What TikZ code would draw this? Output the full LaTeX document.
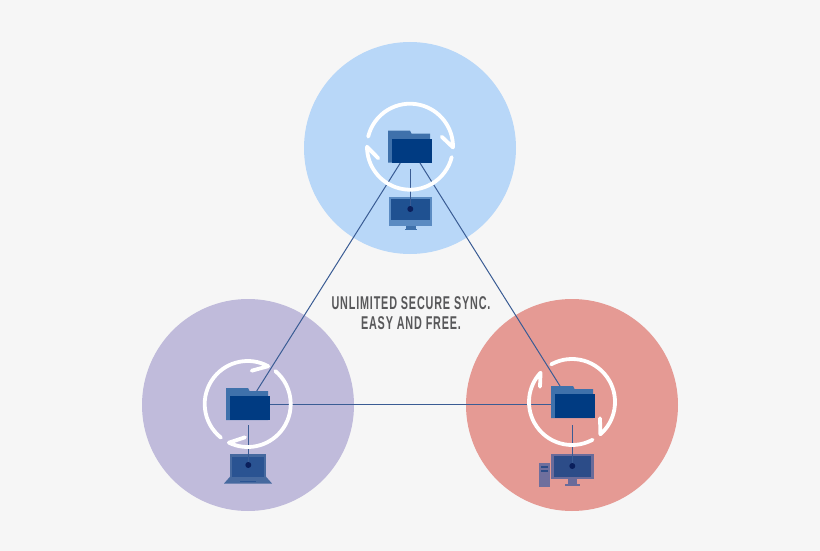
\documentclass[tikz,border=0pt]{standalone}
\usepackage{fontspec}
\newfontfamily\capfont[FakeStretch=0.585,LetterSpace=4.5]{Liberation Sans Bold}
\definecolor{bgc}{HTML}{F6F6F6}
\definecolor{bluec}{HTML}{B8D7F8}
\definecolor{purplec}{HTML}{C0BBDB}
\definecolor{redc}{HTML}{E59A94}
\definecolor{folderback}{HTML}{3F71AB}
\definecolor{folderfront}{HTML}{003B82}
\definecolor{wire}{HTML}{3A5C94}
\definecolor{dotc}{HTML}{0A1F5C}
\definecolor{txtc}{HTML}{58585A}
\definecolor{topouter}{HTML}{5B8BC2}
\definecolor{topinner}{HTML}{1F5191}
\definecolor{lapouter}{HTML}{46699F}
\definecolor{lapinner}{HTML}{2A5392}
\definecolor{deskouter}{HTML}{6A6B9A}
\definecolor{deskinner}{HTML}{2C4C88}
\definecolor{tower}{HTML}{6F6F9D}
\tikzset{
  x=1pt,y=-1pt,
  bubble/.style={circle,minimum size=212pt,inner sep=0pt,outer sep=0pt},
  front/.style={draw=none,fill=folderfront,inner sep=0pt,outer sep=0pt,minimum width=40pt,minimum height=24pt},
  ringline/.style={draw=white,line width=3.8pt,line cap=round,line join=round},
  wireline/.style={draw=wire,line width=1pt},
  syncdot/.style={fill=dotc,circle,inner sep=0pt,outer sep=0pt,minimum size=6pt},
  caption/.style={text=txtc,align=center,font=\capfont\fontsize{18.5}{20.5}\selectfont,inner sep=0pt}
}
\newcommand{\foldershape}[2]{%
  \fill[folderback] (#1,#2) -- (#1+22,#2) -- (#1+23.5,#2+3) -- (#1+42,#2+3) -- (#1+42,#2+32) -- (#1,#2+32) -- cycle;}
\newcommand{\ringarcs}[9]{%
  \draw[ringline] (#1,#2) ++(#3:43) arc[start angle=#3,end angle=#4,radius=43] -- (#5,#6);
  \draw[ringline] (#1,#2) ++(#7:43) arc[start angle=#7,end angle=#8,radius=43] -- #9;}
\begin{document}
\begin{tikzpicture}
\useasboundingbox (0,0) rectangle (820,551);
\fill[bgc] (0,0) rectangle (820,551);
\node[bubble,fill=bluec] (ctop) at (410,148) {};
\node[bubble,fill=purplec] (cleft) at (248,405) {};
\node[bubble,fill=redc] (cright) at (572,405) {};

% folders
\foldershape{388}{130.7}
\foldershape{226}{388}
\foldershape{551}{386}
\node[front] (ftop) at (412,151) {};
\node[front] (fleft) at (250,408) {};
\node[front] (fright) at (575,406) {};

% attachment points
\coordinate (ta) at (400.3,163);
\coordinate (tb) at (420,163);
\coordinate (la) at (256.7,391);
\coordinate (ra) at (560,386);
\coordinate (lc) at (270,404.5);
\coordinate (rb) at (551,404.5);
\coordinate (tv) at (410.3,169);
\coordinate (lv) at (248.3,425);
\coordinate (rv) at (572.3,425);

% top monitor
\fill[topouter] (389,196.7) rectangle (432,226);
\fill[topinner] (391,199) rectangle (430,220);
\fill[folderback] (405.7,226) rectangle (415.7,229);
\fill[folderback] (404.5,229) rectangle (417,230);
% laptop
\fill[lapouter] (230,454) rectangle (266,478);
\fill[lapouter] (230,476.7) -- (224,483.5) -- (272,483.5) -- (266,476.7) -- cycle;
\fill[lapinner] (232,456.5) rectangle (264,476.5);
\fill[lapinner] (240,480.7) rectangle (256,482);
% desktop
\fill[deskouter] (551,454) rectangle (594,478.7);
\fill[deskinner] (554,456.3) rectangle (591.3,476.7);
\fill[deskouter] (568,478.7) rectangle (577.3,484.3);
\fill[deskouter] (565,484.3) rectangle (580,486);
\fill[tower] (539,463) rectangle (550,486.7);
\fill[deskinner] (541,466) rectangle (548,468);
\fill[deskinner] (541,470) rectangle (548,471.7);

% connectors
\draw[wireline] (ta) -- (la);
\draw[wireline] (tb) -- (ra);
\draw[wireline] (lc) -- (rb);
\node[syncdot] (dtop) at (410.3,209) {};
\node[syncdot] (dleft) at (248.3,465) {};
\node[syncdot] (dright) at (572.3,466) {};
\draw[wireline] (tv) -- (dtop);
\draw[wireline] (lv) -- (dleft);
\draw[wireline] (rv) -- (dright);

% rings
\ringarcs{410}{146.7}{193.5}{361}{441.7}{136.7}{14}{180}{(378.3,158.3)}
\ringarcs{247.7}{404}{310}{476}{245}{437.3}{128.5}{298.5}{(251.7,370.7)}
\ringarcs{572}{402}{241}{408.7}{600}{418.3}{61.4}{223}{(540,386.7)}

\node[caption] (cap) at (411,313) {UNLIMITED SECURE SYNC.\\EASY AND FREE.};
\end{tikzpicture}
\end{document}
